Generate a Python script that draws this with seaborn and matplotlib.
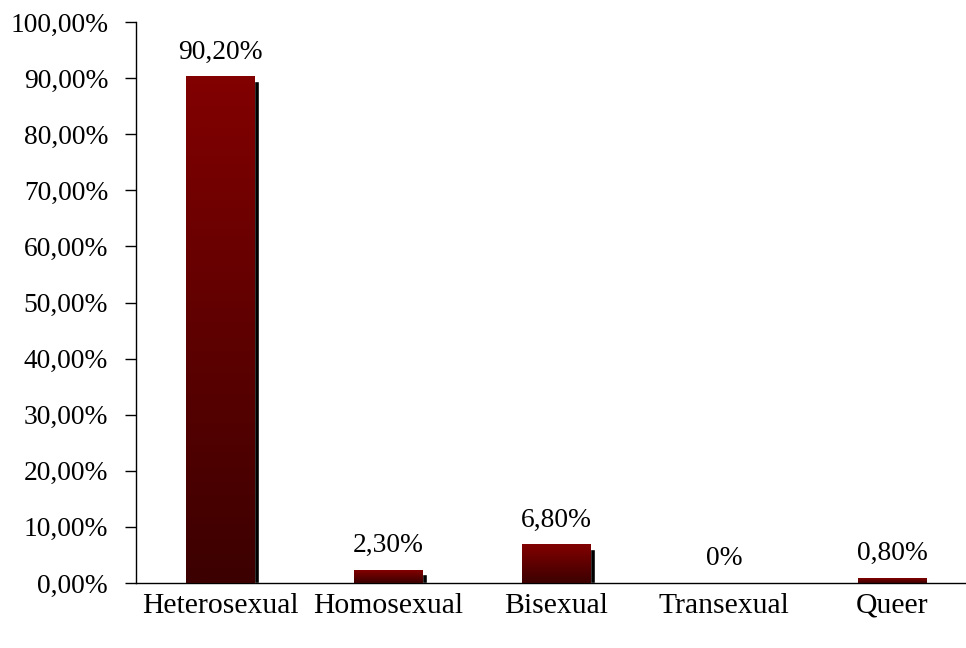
import numpy as np
import pandas as pd
import seaborn as sns
import matplotlib.pyplot as plt
from matplotlib.colors import LinearSegmentedColormap

categories = ["Heterosexual", "Homosexual", "Bisexual", "Transexual", "Queer"]
values = [90.2, 2.3, 6.8, 0.0, 0.8]
value_labels = ["90,20%", "2,30%", "6,80%", "0%", "0,80%"]
y_ticks = [0, 10, 20, 30, 40, 50, 60, 70, 80, 90, 100]

data = pd.DataFrame({"cat": categories, "val": values})

sns.set_style("white")
plt.rcParams["font.family"] = ["Liberation Serif", "DejaVu Serif"]
plt.rcParams["text.color"] = "black"
plt.rcParams["xtick.color"] = "black"
plt.rcParams["ytick.color"] = "black"

fig = plt.figure(figsize=(9.66, 6.48), dpi=100)
ax = fig.add_axes([136 / 966, 65 / 648, 840 / 966, 561 / 648])

bar_w = 0.41
# shadow bars, offset right and down
for i, v in enumerate(values):
    if v > 0:
        ax.bar(i + 0.03, max(v - 0.7, 0), width=bar_w, color="black", zorder=1)

sns.barplot(data=data, x="cat", y="val", width=bar_w, color="#800000",
            saturation=1, ax=ax, zorder=2)

# vertical gradient on each bar
cmap = LinearSegmentedColormap.from_list("grad", ["#3c0000", "#820000"])
grad = np.linspace(0, 1, 256).reshape(-1, 1)
for p in ax.patches:
    if p.get_facecolor()[0] > 0.1 and p.get_height() > 0:
        x, w, h = p.get_x(), p.get_width(), p.get_height()
        ax.imshow(grad, extent=[x, x + w, 0, h], origin="lower", aspect="auto",
                  cmap=cmap, zorder=3, interpolation="bilinear")

for i, lab in enumerate(value_labels):
    ax.text(i, values[i] + 2.2, lab, ha="center", va="bottom", fontsize=19.8)

ax.set_xlim(-0.5, 4.5)
ax.set_ylim(0, 100)
ax.set_yticks(y_ticks)
ax.set_yticklabels([f"{t},00%" for t in y_ticks], fontsize=19.8)
ax.set_xticks([-0.5, 0.5, 1.5, 2.5, 3.5, 4.5])
ax.set_xticklabels([])
ax.set_xticks(range(len(categories)), minor=True)
ax.set_xticklabels(categories, minor=True, fontsize=21.3)
ax.tick_params(axis="x", which="major", direction="out", length=8, width=1, color="black")
ax.tick_params(axis="x", which="minor", length=0, pad=7)
ax.tick_params(axis="y", direction="out", length=8, width=1, color="black", pad=12, left=True)
ax.set_xlabel("")
ax.set_ylabel("")
sns.despine(ax=ax)
for s in ["left", "bottom"]:
    ax.spines[s].set_color("black")
    ax.spines[s].set_linewidth(1)

fig.savefig("out.png", dpi=100)
